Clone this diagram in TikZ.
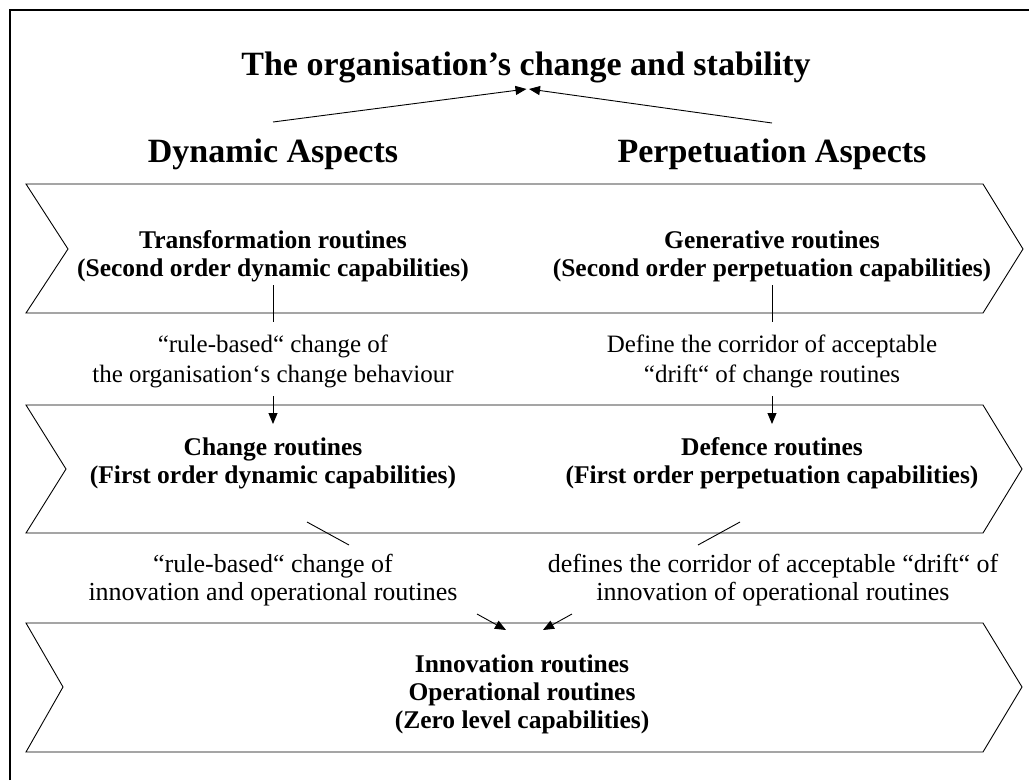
\documentclass[tikz,border=0pt]{standalone}
\usepackage{fontspec}
\setmainfont{Liberation Serif}
\usetikzlibrary{arrows.meta}
\begin{document}
\begin{tikzpicture}[x=1pt,y=-1pt,
  heading/.style={font=\fontsize{34}{38}\selectfont\bfseries, inner sep=0pt, anchor=base},
  routine/.style={font=\fontsize{25.5}{28}\selectfont\bfseries, inner sep=0pt, anchor=base},
  relation/.style={font=\fontsize{25}{30}\selectfont, inner sep=0pt, anchor=base},
  lowrelation/.style={font=\fontsize{26}{28}\selectfont, inner sep=0pt, anchor=base},
  chevron/.style={draw=black, line width=0.9pt},
  link/.style={draw=black, line width=0.9pt},
  tip/.style={-{Triangle[length=11pt,width=9pt]}}]
\useasboundingbox (0,0) rectangle (1029,780);
% frame edges
\draw[line width=2.6pt] (10,780) -- (10,10) -- (1029,10);

% three layers of routines
\draw[chevron] (26,184) -- (983,184) -- (1023,249) -- (983,313) -- (26,313) -- (68,249) -- cycle;
\draw[chevron] (26,405) -- (983,405) -- (1022,469) -- (983,533) -- (26,533) -- (66,469) -- cycle;
\draw[chevron] (26,623) -- (983,623) -- (1022,687) -- (983,752) -- (26,752) -- (63,687) -- cycle;

% headings
\node[heading] (title) at (526,75) {The organisation’s change and stability};
\node[heading] (dyn) at (273,162) {Dynamic Aspects};
\node[heading] (perp) at (772,162) {Perpetuation Aspects};

% routine levels
\node[routine] (trans) at (273,248) {Transformation routines};
\node[routine] (transcap) at (273,276) {(Second order dynamic capabilities)};
\node[routine] (gen) at (772,248) {Generative routines};
\node[routine] (gencap) at (772,276) {(Second order perpetuation capabilities)};
\node[routine] (chg) at (273,455) {Change routines};
\node[routine] (chgcap) at (273,483) {(First order dynamic capabilities)};
\node[routine] (def) at (772,455) {Defence routines};
\node[routine] (defcap) at (772,483) {(First order perpetuation capabilities)};
\node[routine] (innov) at (522,672) {Innovation routines};
\node[routine] (oper) at (522,700) {Operational routines};
\node[routine] (zero) at (522,728) {(Zero level capabilities)};

% relations between the levels
\node[relation] (r1a) at (273,352) {“rule-based“ change of};
\node[relation] (r1b) at (273,382) {the organisation‘s change behaviour};
\node[relation] (r2a) at (772,352) {Define the corridor of acceptable};
\node[relation] (r2b) at (772,382) {“drift“ of change routines};
\node[lowrelation] (r3a) at (273,572) {“rule-based“ change of};
\node[lowrelation] (r3b) at (273,600) {innovation and operational routines};
\node[lowrelation] (r4a) at (773,572) {defines the corridor of acceptable “drift“ of};
\node[lowrelation] (r4b) at (773,600) {innovation of operational routines};

% connector end points (gaps leave room for the relation texts)
\coordinate (dynstart) at (273,122);
\coordinate (perpstart) at (772,123);
\coordinate (titleL) at (526.5,89);
\coordinate (titleR) at (529,89);
\coordinate (transend) at (273,285);
\coordinate (transgap) at (273,322);
\coordinate (chggap) at (273,396);
\coordinate (chgin) at (273,424);
\coordinate (genend) at (772,285);
\coordinate (gengap) at (772,322);
\coordinate (defgap) at (772,396);
\coordinate (defin) at (772,424);
\coordinate (chgend) at (307,522);
\coordinate (chgout) at (349,545);
\coordinate (zeroinL) at (477,614);
\coordinate (zeroL) at (506,630);
\coordinate (defend) at (740,522);
\coordinate (defout) at (698,545);
\coordinate (zeroinR) at (572,614);
\coordinate (zeroR) at (543,630);

\draw[link, tip] (dynstart) -- (titleL);
\draw[link, tip] (perpstart) -- (titleR);
\draw[link] (transend) -- (transgap);
\draw[link, tip] (chggap) -- (chgin);
\draw[link] (genend) -- (gengap);
\draw[link, tip] (defgap) -- (defin);
\draw[link] (chgend) -- (chgout);
\draw[link, tip] (zeroinL) -- (zeroL);
\draw[link] (defend) -- (defout);
\draw[link, tip] (zeroinR) -- (zeroR);
\end{tikzpicture}
\end{document}
